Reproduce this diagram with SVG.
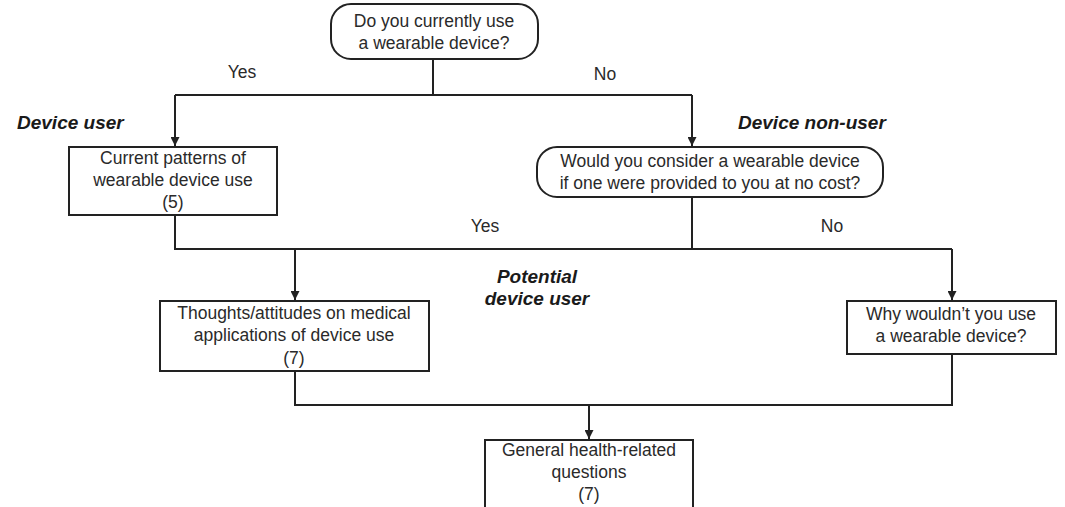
<svg xmlns="http://www.w3.org/2000/svg" width="1065" height="507" viewBox="0 0 1065 507">
<defs>
<style>
.box{fill:#fff;stroke:#222;stroke-width:2}
.ln{fill:none;stroke:#222;stroke-width:2}
.t{font-family:"Liberation Sans",Arial,sans-serif;font-size:17.5px;fill:#2a2a2a;text-anchor:middle}
.lb{font-family:"Liberation Sans",Arial,sans-serif;font-size:17.5px;fill:#2a2a2a;text-anchor:middle}
.bi{font-family:"Liberation Sans",Arial,sans-serif;font-size:19px;font-weight:bold;font-style:italic;fill:#1a1a1a}
</style>
<marker id="arr" viewBox="0 0 10 10" refX="10" refY="5" markerWidth="9" markerHeight="9" markerUnits="userSpaceOnUse" orient="auto">
<path d="M0,0 L10,5 L0,10 z" fill="#222"/>
</marker>
</defs>
<rect width="1065" height="507" fill="#fff"/>
<g id="connectors">
<path class="ln" d="M433,59 V95"/>
<path class="ln" d="M175,95 H692"/>
<path class="ln" d="M175,95 V146" marker-end="url(#arr)"/>
<path class="ln" d="M692,95 V146" marker-end="url(#arr)"/>
<path class="ln" d="M175,215 V249 H952"/>
<path class="ln" d="M692,197 V249"/>
<path class="ln" d="M295,249 V300" marker-end="url(#arr)"/>
<path class="ln" d="M952,249 V300" marker-end="url(#arr)"/>
<path class="ln" d="M295,371 V405 H952 V354"/>
<path class="ln" d="M589,405 V439" marker-end="url(#arr)"/>
<text class="lb" x="242" y="78">Yes</text>
<text class="lb" x="605" y="80">No</text>
<text class="lb" x="485" y="232">Yes</text>
<text class="lb" x="832" y="232">No</text>
</g>
<g id="labels">
<text class="bi" x="17" y="129">Device user</text>
<text class="bi" x="738" y="129">Device non-user</text>
<text class="bi" x="537" y="283" text-anchor="middle">Potential</text>
<text class="bi" x="537" y="305" text-anchor="middle">device user</text>
</g>
<g id="q1">
<rect class="box" x="331" y="4" width="207" height="55" rx="20"/>
<text class="t" x="434" y="27">Do you currently use</text>
<text class="t" x="434" y="49">a wearable device?</text>
</g>
<g id="user">
<rect class="box" x="69" y="147" width="208" height="68"/>
<text class="t" x="173" y="164">Current patterns of</text>
<text class="t" x="173" y="186">wearable device use</text>
<text class="t" x="173" y="208">(5)</text>
</g>
<g id="q2">
<rect class="box" x="537" y="147" width="346" height="50" rx="20"/>
<text class="t" x="710" y="167">Would you consider a wearable device</text>
<text class="t" x="710" y="189">if one were provided to you at no cost?</text>
</g>
<g id="thoughts">
<rect class="box" x="160" y="301" width="269" height="70"/>
<text class="t" x="294" y="319">Thoughts/attitudes on medical</text>
<text class="t" x="294" y="341">applications of device use</text>
<text class="t" x="294" y="364">(7)</text>
</g>
<g id="why">
<rect class="box" x="847" y="301" width="209" height="53"/>
<text class="t" x="951" y="320">Why wouldn’t you use</text>
<text class="t" x="951" y="342">a wearable device?</text>
</g>
<g id="general">
<rect class="box" x="485" y="440" width="208" height="80"/>
<text class="t" x="589" y="456">General health-related</text>
<text class="t" x="589" y="478">questions</text>
<text class="t" x="589" y="500">(7)</text>
</g>
</svg>
